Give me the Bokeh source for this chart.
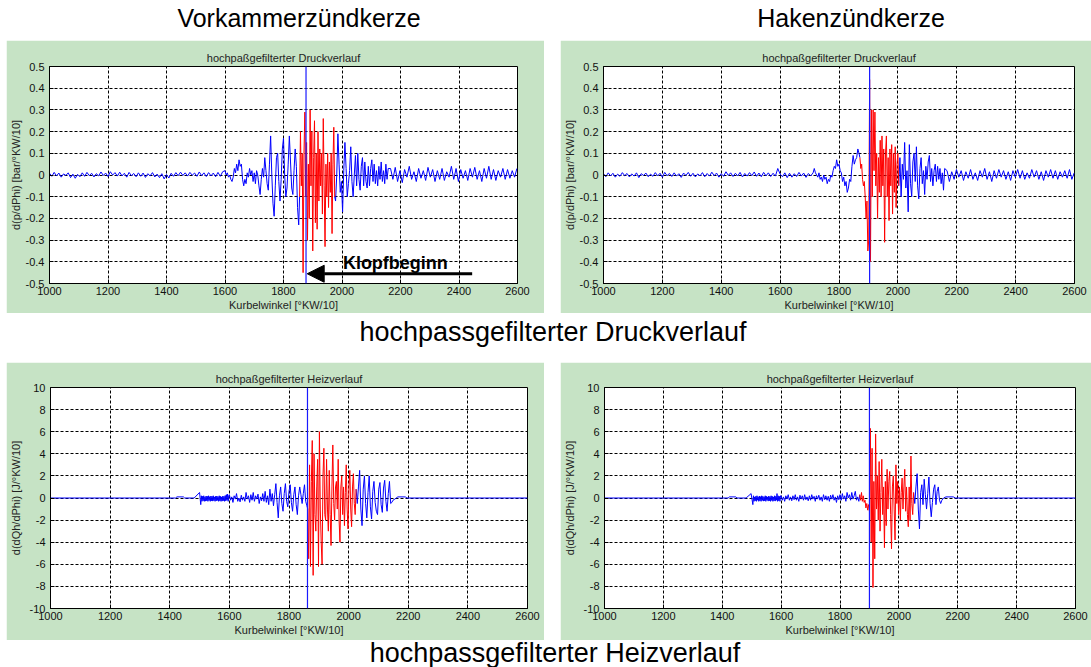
from bokeh.plotting import figure
from bokeh.layouts import column, row
from bokeh.models import (Range1d, FixedTicker, CustomJSTickFormatter, Span,
                          Arrow, NormalHead, Label, Div, Spacer)
from bokeh.embed import file_html
from bokeh.resources import INLINE

# ---------------------------------------------------------------- axes
X_TICKS = [1000, 1200, 1400, 1600, 1800, 2000, 2200, 2400, 2600]
P_TICKS = [-0.5, -0.4, -0.3, -0.2, -0.1, 0, 0.1, 0.2, 0.3, 0.4, 0.5]
Q_TICKS = [-10, -8, -6, -4, -2, 0, 2, 4, 6, 8, 10]

# knock onset [°KW/10] per spark plug / signal
ONSET_VK_P = 1877
ONSET_HK_P = 1904
ONSET_VK_Q = 1862
ONSET_HK_Q = 1900

# ------------------------------------------- Vorkammerzündkerze, d(p/dPhi)
VK_P_PRE = [  # from 1000, every 8
    0.008, -0.006, 0.012, -0.004, 0.009, -0.010, 0.005, -0.002, 0.010, -0.012,
    0.004, -0.015, 0.003, -0.008, 0.010, -0.006, 0.012, -0.003, 0.008, -0.009,
    0.006, -0.004, 0.014, -0.002, 0.009, -0.007, 0.015, 0.000, 0.011, -0.005,
    0.013, -0.004, 0.008, -0.010, 0.012, -0.003, 0.007, -0.008, 0.010, -0.006,
    0.009, -0.011, 0.006, -0.004, 0.011, -0.009, 0.004, -0.012, 0.006, -0.018,
    0.002, -0.014, 0.008, -0.006, 0.011, -0.003, 0.013, -0.002, 0.010, -0.005,
    0.012, -0.001, 0.009, -0.006, 0.014, -0.003, 0.010, -0.007, 0.011, -0.004,
    0.009, -0.008, 0.012, -0.006, 0.015]
VK_P_RISE = [  # from 1600, every 4
    0.02, 0.00, 0.01, -0.01, 0.00, -0.02, -0.03, -0.01, 0.03, 0.01,
    0.05, 0.02, 0.07, 0.04, 0.05, -0.02, -0.05, -0.02, -0.04, 0.01,
    -0.01, 0.03, 0.00, 0.02, -0.03, 0.01, -0.04, 0.02, 0.00, -0.05,
    -0.09, -0.02, 0.03, -0.01, 0.08, 0.02, -0.04, -0.07, 0.05, 0.18,
    0.00, -0.13, -0.19, -0.05, 0.08, 0.10, -0.03, -0.12, -0.02, 0.12,
    0.17, 0.00, -0.10, -0.06, 0.05, 0.18, 0.06, -0.06, -0.09, 0.02,
    0.12, 0.04, -0.15, -0.23]
VK_P_KNOCK = [  # from 1855, every 3
    -0.10, 0.20, -0.05, 0.10, -0.45, 0.10, 0.29, -0.10, 0.15, -0.30,
    0.05, -0.20, 0.30, -0.05, 0.20, -0.35, 0.08, 0.25, -0.22, 0.10,
    -0.25, 0.20, -0.12, 0.12, -0.05, 0.10, -0.18, 0.26, -0.05, -0.33,
    0.05, -0.10, 0.10, -0.15, 0.06, -0.08, 0.10, -0.27, 0.05, 0.22,
    -0.10]
VK_P_DECAY = [  # from 1978, every 4
    -0.12, 0.00, 0.19, 0.05, -0.08, -0.03, -0.17, 0.02, 0.15, 0.03,
    -0.10, -0.04, 0.02, 0.13, -0.03, -0.10, 0.00, 0.09, -0.05, 0.10,
    -0.02, -0.07, 0.04, 0.08, -0.05, 0.06, -0.03, -0.06, 0.04, -0.05,
    0.03, 0.07, -0.03, 0.05, -0.04, 0.02, -0.05, 0.04, -0.02, 0.06,
    -0.03, 0.02, -0.04, 0.05, -0.02, 0.03]
VK_P_TAIL = [  # from 2166, every 8
    0.030, -0.020, 0.035, -0.030, 0.020, -0.035, 0.025, -0.010, 0.040, -0.020,
    0.015, -0.030, 0.030, -0.015, 0.020, -0.025, 0.035, -0.010, 0.025, -0.030,
    0.020, -0.020, 0.030, -0.025, 0.015, -0.010, 0.040, -0.020, 0.030, -0.030,
    0.025, -0.015, 0.020, -0.025, 0.030, -0.010, 0.035, -0.020, 0.020, -0.030,
    0.030, -0.015, 0.040, -0.020, 0.025, -0.025, 0.020, -0.010, 0.030, -0.020,
    0.025, -0.015, 0.020, -0.010, 0.030]

# ---------------------------------------------- Hakenzündkerze, d(p/dPhi)
HK_P_PRE = [  # from 1000, every 8
    0.006, -0.008, 0.010, -0.004, 0.008, -0.010, 0.004, -0.006, 0.011, -0.003,
    0.007, -0.009, 0.005, -0.005, 0.010, -0.012, 0.006, -0.002, 0.009, -0.008,
    0.004, -0.006, 0.011, -0.004, 0.008, -0.010, 0.012, -0.003, 0.007, -0.007,
    0.010, -0.005, 0.006, -0.011, 0.009, -0.002, 0.012, -0.006, 0.008, -0.009,
    0.005, -0.004, 0.011, -0.008, 0.007, -0.005, 0.013, -0.003, 0.009, -0.010,
    0.006, -0.006, 0.015, -0.002, 0.010, -0.007, 0.008, -0.004, 0.012, -0.009,
    0.007, -0.005, 0.011, -0.003, 0.014, -0.006, 0.009, -0.008, 0.012, -0.004,
    0.010, -0.007, 0.008, -0.005, 0.030, 0.004, -0.008, 0.010, -0.012, 0.008,
    -0.010, 0.006, -0.007, 0.012, -0.005, 0.009, -0.011, 0.007, -0.004, 0.010]
HK_P_RISE = [  # from 1716, every 4
    0.03, 0.01, 0.00, -0.01, 0.01, -0.02, -0.01, -0.03, 0.00, -0.02,
    -0.01, -0.04, -0.02, -0.03, 0.00, -0.01, 0.02, 0.04, 0.03, 0.07,
    0.04, 0.05, 0.02, 0.01, -0.03, -0.01, -0.05, -0.03, -0.08, -0.06,
    -0.02, -0.03, 0.04, 0.09, 0.05, 0.07, 0.08, 0.12, 0.10]
HK_P_KNOCK = [  # from 1871, every 3
    0.08, 0.03, 0.05, -0.02, -0.05, -0.03, -0.10, -0.20, -0.12, -0.35,
    -0.30, 0.44, -0.40, 0.30, -0.10, 0.30, 0.02, 0.29, -0.05, 0.10,
    -0.20, 0.08, -0.08, 0.16, -0.10, 0.18, -0.05, 0.12, -0.31, 0.10,
    0.18, -0.10, 0.08, -0.21, 0.12, -0.05, 0.14, -0.18, 0.10, -0.08,
    0.13, -0.15, 0.05, 0.10, -0.05]
HK_P_DECAY = [  # from 2007, every 4
    0.08, -0.10, 0.05, -0.02, 0.15, -0.06, 0.02, -0.17, 0.14, -0.04,
    -0.10, 0.06, 0.10, -0.03, 0.13, -0.05, -0.11, 0.03, 0.08, -0.04,
    0.02, -0.09, 0.04, -0.02, 0.06, 0.09, -0.03, 0.03, -0.05, 0.02,
    0.05, -0.03, 0.04, -0.02, 0.03, -0.04, 0.01, -0.07, 0.03]
HK_P_TAIL = [  # from 2167, every 8
    0.020, -0.030, 0.015, -0.020, 0.025, -0.010, 0.020, -0.025, 0.015, -0.015,
    0.025, -0.020, 0.010, -0.025, 0.020, -0.010, 0.030, -0.020, 0.015, -0.030,
    0.020, -0.015, 0.025, -0.010, 0.020, -0.020, 0.015, -0.025, 0.020, -0.010,
    0.025, -0.015, 0.020, -0.020, 0.010, -0.015, 0.025, -0.010, 0.020, -0.020,
    0.015, -0.025, 0.020, -0.010, 0.025, -0.015, 0.020, -0.020, 0.015, -0.010,
    0.020, -0.015, 0.025, -0.020, 0.010]

# ----------------------------------------- Vorkammerzündkerze, d(dQh/dPhi)
VK_Q_LEAD_X = [1000, 1420, 1424, 1446, 1450, 1482, 1500, 1504]
VK_Q_LEAD_Y = [0.0, 0.0, 0.1, 0.1, 0.0, 0.0, 0.5, -0.6]
VK_Q_BAND = [  # from 1506, every 2
    0.20, -0.30, 0.15, -0.25, 0.20, -0.30, 0.10, -0.28, 0.18, -0.25,
    0.15, -0.30, 0.20, -0.22, 0.12, -0.30, 0.18, -0.25, 0.15, -0.28,
    0.20, -0.24, 0.10, -0.30, 0.16, -0.26, 0.18, -0.22, 0.12, -0.30,
    0.20, -0.25, 0.15, -0.30, 0.10, -0.28, 0.18, -0.24, 0.14, -0.30,
    0.22, -0.26, 0.30, -0.20, 0.35, -0.30, 0.20]
VK_Q_RISE = [  # from 1600, every 4
    0.3, -0.2, 0.1, -0.4, 0.2, -0.1, 0.4, -0.3, 0.0, -0.35,
    0.25, -0.2, 0.1, -0.3, 0.5, -0.1, 0.2, -0.4, 0.3, -0.2,
    0.5, -0.3, 0.2, -0.1, 0.35, -0.5, 0.1, -0.25, 0.4, -0.3,
    0.6, -0.4, 0.2, -0.6, 0.8, -0.3, 0.4, -0.7, 0.3, 1.3,
    -0.4, -1.8, 0.2, 1.0, -0.5, -1.2, 0.4, 1.3, -0.3, -0.8,
    0.6, 1.2, -0.4, -1.2, 0.3, 1.0, -0.6, -1.5, 0.2, 1.0,
    0.3, -0.5, 0.4, 1.2, -0.3, -0.7]
VK_Q_KNOCK = [  # from 1863, every 3
    -1.0, -5.5, 3.0, -6.2, 1.5, 5.2, -7.0, 4.0, -1.5, -3.0,
    1.0, 3.5, -6.2, 6.0, -1.0, -4.0, -6.0, 2.0, 4.5, -1.5,
    -2.0, 3.5, -1.0, -3.0, 2.5, -1.5, -4.3, 1.0, 4.8, -0.5,
    -2.0, 1.0, 1.5, -1.0, 3.5, -2.0, -4.0, 1.0, 2.0, -1.5,
    1.0, -2.5, 0.5, 3.0, -1.0, -2.8, 1.0, 2.5, -1.0, -2.6,
    1.0, 2.2, -0.5, -1.5, 0.8]
VK_Q_DECAY = [  # from 2029, every 4
    -0.5, 1.0, 2.5, -1.0, -2.5, 0.8, 2.0, -0.5, -1.8, 0.5,
    2.0, -0.8, -1.9, 0.6, 1.5, -0.4, -1.2, -1.5, 0.8, 1.4,
    -0.6, -1.3, 0.9, 1.6, -0.3, -1.2, 0.4, 1.5, -0.5, -0.4,
    -0.2]
VK_Q_TRAIL_X = [2155, 2165, 2190, 2196, 2600]
VK_Q_TRAIL_Y = [-0.1, 0.1, 0.1, 0.0, 0.0]

# -------------------------------------------- Hakenzündkerze, d(dQh/dPhi)
HK_Q_LEAD_X = [1000, 1420, 1424, 1446, 1450, 1481, 1498, 1504]
HK_Q_LEAD_Y = [0.0, 0.0, 0.1, 0.1, 0.0, 0.0, 0.4, -0.6]
HK_Q_BAND = [  # from 1506, every 2
    0.20, -0.30, 0.10, -0.25, 0.15, -0.30, 0.20, -0.20, 0.10, -0.30,
    0.18, -0.25, 0.12, -0.30, 0.20, -0.22, 0.15, -0.28, 0.10, -0.25,
    0.20, -0.30, 0.15, -0.20, 0.10, -0.28, 0.18, -0.25, 0.12, -0.30,
    0.20, -0.22, 0.15, -0.30, 0.10, -0.25, 0.20, -0.28, 0.15, -0.20,
    0.40, -0.30, 0.20, -0.25, 0.15, -0.30, 0.20]
HK_Q_RISE = [  # from 1600, every 4
    0.2, -0.2, 0.1, -0.3, 0.2, -0.1, 0.3, -0.2, 0.1, -0.25,
    0.2, -0.15, 0.3, -0.2, 0.1, -0.3, 0.25, -0.1, 0.2, -0.2,
    0.3, -0.15, 0.1, -0.25, 0.2, -0.2, 0.3, -0.1, 0.15, -0.3,
    0.2, -0.1, 0.25, -0.2, 0.1, -0.3, 0.3, -0.15, 0.2, -0.2,
    0.15, -0.3, 0.25, -0.1, 0.3, -0.2, 0.1, -0.4, 0.2, -0.15,
    0.3, -0.2, 0.4, -0.1, 0.2, -0.3, 0.5, 0.0, 0.3, -0.2,
    0.5, -0.1, 0.2, 0.6, -0.2, 0.1, -0.3]
HK_Q_KNOCK = [  # from 1867, every 3
    0.3, -0.2, 0.5, -0.3, 0.2, -0.4, -0.2, -0.9, -0.5, -1.1,
    -0.6, -1.2, 6.3, -4.0, 4.5, -8.1, 1.5, -5.5, 5.8, -1.0,
    2.0, -2.0, 3.3, -3.0, 0.5, 3.5, -1.5, 1.0, -4.5, 1.5,
    -2.5, 2.6, -1.0, 1.5, 2.4, -1.5, -4.6, 1.0, 2.0, -1.0,
    -3.8, 3.0, -0.5, 1.5, -1.5, 1.0, -2.0, 0.5, 1.8, -1.0,
    1.0, 2.6, -1.2, 1.0, -1.5, -2.6, 1.0, -2.0, 3.8, -0.5,
    -1.5, 0.5]
HK_Q_DECAY = [  # from 2054, every 4
    -0.5, 1.0, 2.2, -1.0, -2.8, 0.5, 1.2, -0.6, 1.7, 0.3,
    -1.0, 0.4, 1.9, -0.5, -1.7, -0.4, 0.8, 1.2, -0.6, 0.6,
    1.0, -0.2, -0.5, -0.2]
HK_Q_TRAIL_X = [2152, 2160, 2185, 2192, 2600]
HK_Q_TRAIL_Y = [0.0, 0.1, 0.1, 0.0, 0.0]

FONT = "Liberation Sans"
GREEN = "#c6e3c5"
BLUE = "#0000ff"
RED = "#ff0000"


def grid(start, step, values):
    return [start + step * i for i in range(len(values))], list(values)


def join(*parts):
    xs, ys = [], []
    for px, py in parts:
        xs += list(px)
        ys += list(py)
    return xs, ys


FMT = CustomJSTickFormatter(code="""
    if (Math.abs(tick) < 1e-9) { return "0"; }
    return String(Math.round(tick * 10) / 10);
""")


def panel(width, height, borders, title, ylabel, yticks, before, knock, after,
          onset, ylabel_standoff):
    left, right, top, bottom = borders
    p = figure(width=width, height=height, title=title,
               x_range=Range1d(X_TICKS[0], X_TICKS[-1]),
               y_range=Range1d(yticks[0], yticks[-1]),
               output_backend="svg", toolbar_location=None,
               min_border_left=left, min_border_right=right,
               min_border_top=top, min_border_bottom=bottom,
               border_fill_color=GREEN, background_fill_color="white",
               outline_line_color="black", outline_line_width=1)
    p.title.text_font = FONT
    p.title.text_font_size = "11px"
    p.title.text_font_style = "normal"
    p.title.text_color = "#222222"
    p.title.align = "center"
    p.title.standoff = 5

    p.xaxis.ticker = FixedTicker(ticks=X_TICKS)
    p.yaxis.ticker = FixedTicker(ticks=yticks)
    p.xaxis.axis_label = "Kurbelwinkel [°KW/10]"
    p.yaxis.axis_label = ylabel
    for ax in (p.xaxis, p.yaxis):
        ax.formatter = FMT
        ax.axis_line_color = "black"
        ax.major_tick_line_color = "black"
        ax.major_tick_in = 4
        ax.major_tick_out = 0
        ax.minor_tick_line_color = None
        ax.major_label_text_font = FONT
        ax.major_label_text_font_size = "11px"
        ax.major_label_text_color = "#111111"
        ax.axis_label_text_font = FONT
        ax.axis_label_text_font_size = "11px"
        ax.axis_label_text_font_style = "normal"
        ax.axis_label_text_color = "#222222"
    p.xaxis.major_label_standoff = 3
    p.xaxis.axis_label_standoff = 1
    p.yaxis.major_label_standoff = 5
    p.yaxis.axis_label_standoff = ylabel_standoff

    p.grid.grid_line_color = "black"
    p.grid.grid_line_dash = "3 2"
    p.grid.grid_line_width = 1

    # blue before and after the knock window, red inside it
    kx, ky = knock
    p.line(before[0] + kx[:1], before[1] + ky[:1], line_color=BLUE, line_width=1)
    p.line(kx[-1:] + after[0], ky[-1:] + after[1], line_color=BLUE, line_width=1)
    p.line(kx, ky, line_color=RED, line_width=1)
    p.add_layout(Span(location=onset, dimension="height",
                      line_color="#1a1aff", line_width=1.2))
    return p


# ------------------------------------------------------------- traces
vk_p_knock = grid(1855, 3, VK_P_KNOCK)
vk_p_before = join(grid(1000, 8, VK_P_PRE), grid(1600, 4, VK_P_RISE))
vk_p_after = join(grid(1978, 4, VK_P_DECAY), grid(2166, 8, VK_P_TAIL))

hk_p_knock = grid(1871, 3, HK_P_KNOCK)
hk_p_before = join(grid(1000, 8, HK_P_PRE), grid(1716, 4, HK_P_RISE))
hk_p_after = join(grid(2007, 4, HK_P_DECAY), grid(2167, 8, HK_P_TAIL))

vk_q_knock = grid(1863, 3, VK_Q_KNOCK)
vk_q_before = join((VK_Q_LEAD_X, VK_Q_LEAD_Y), grid(1506, 2, VK_Q_BAND),
                   grid(1600, 4, VK_Q_RISE))
vk_q_after = join(grid(2029, 4, VK_Q_DECAY), (VK_Q_TRAIL_X, VK_Q_TRAIL_Y))

hk_q_knock = grid(1867, 3, HK_Q_KNOCK)
hk_q_before = join((HK_Q_LEAD_X, HK_Q_LEAD_Y), grid(1506, 2, HK_Q_BAND),
                   grid(1600, 4, HK_Q_RISE))
hk_q_after = join(grid(2054, 4, HK_Q_DECAY), (HK_Q_TRAIL_X, HK_Q_TRAIL_Y))

P_LABEL = "d(p/dPhi) [bar/°KW/10]"
Q_LABEL = "d(dQh/dPhi) [J/°KW/10]"
P_TITLE = "hochpaßgefilterter Druckverlauf"
Q_TITLE = "hochpaßgefilterter Heizverlauf"

p_tl = panel(538, 273, (41, 27, 26, 29), P_TITLE, P_LABEL, P_TICKS,
             vk_p_before, vk_p_knock, vk_p_after, ONSET_VK_P, 1)
p_tr = panel(531, 273, (41, 17, 25, 30), P_TITLE, P_LABEL, P_TICKS,
             hk_p_before, hk_p_knock, hk_p_after, ONSET_HK_P, 1)
p_bl = panel(538, 278, (41, 17, 25, 32), Q_TITLE, Q_LABEL, Q_TICKS,
             vk_q_before, vk_q_knock, vk_q_after, ONSET_VK_Q, 5)
p_br = panel(531, 278, (41, 16, 25, 32), Q_TITLE, Q_LABEL, Q_TICKS,
             hk_q_before, hk_q_knock, hk_q_after, ONSET_HK_Q, 5)

# knock onset marker
p_tl.add_layout(Arrow(end=NormalHead(size=17, fill_color="black",
                                     line_color="black"),
                      x_start=2445, y_start=-0.455, x_end=1881, y_end=-0.455,
                      line_width=3, line_color="black"))
p_tl.add_layout(Label(x=2003, y=-0.405, text="Klopfbeginn",
                      text_font=FONT, text_font_size="18px",
                      text_font_style="bold", text_color="black",
                      text_baseline="alphabetic"))


def banner(width, height, items, size):
    spans = "".join(
        f'<span style="position:absolute;left:{x}px;top:{y}px;'
        f'transform:translateX(-50%);white-space:nowrap;line-height:1;">{t}</span>'
        for t, x, y in items)
    html = (f'<div style="position:relative;width:{width}px;height:{height}px;'
            f"font-family:'Liberation Sans',Arial,sans-serif;font-size:{size}px;"
            f'color:#000;">{spans}</div>')
    return Div(text=html, width=width, height=height, margin=0)


head = banner(1091, 40, [("Vorkammerzündkerze", 299, 6),
                         ("Hakenzündkerze", 851, 6)], 25)
mid = banner(1091, 49, [("hochpassgefilterter Druckverlauf", 553, 6)], 27)
foot = banner(1091, 27, [("hochpassgefilterter Heizverlauf", 555, 0)], 27)

layout = column(
    head,
    row(Spacer(width=6, height=273, margin=0), p_tl,
        Spacer(width=16, height=273, margin=0), p_tr, spacing=0),
    mid,
    row(Spacer(width=6, height=278, margin=0), p_bl,
        Spacer(width=16, height=278, margin=0), p_br, spacing=0),
    foot,
    spacing=0,
)

with open("out.html", "w") as f:
    f.write(file_html(layout, INLINE, title="Klopfbeginn"))
